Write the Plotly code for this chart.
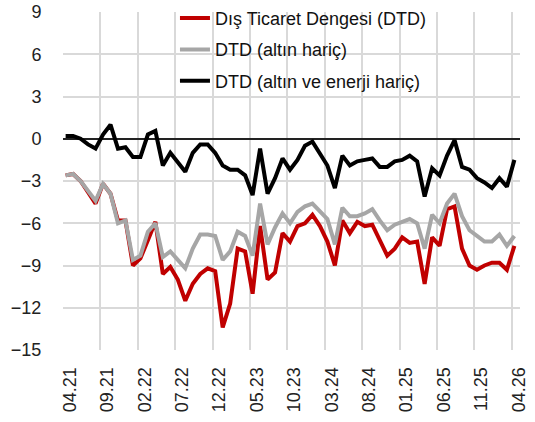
import pandas as pd
import plotly.graph_objects as go

months = [d.strftime("%m.%y") for d in pd.date_range("2021-04-01", "2026-04-01", freq="MS")]
month_idx = list(range(len(months)))
tick_labels = months[::5]

dtd = [-2.6, -2.5, -3.0, -3.8, -4.6, -3.2, -3.9, -5.8, -5.8, -9.0,
       -8.5, -7.2, -5.9, -9.6, -9.1, -10.0, -11.5, -10.3, -9.6, -9.2,
       -9.4, -13.4, -11.7, -7.8, -8.0, -11.0, -6.2, -10.0, -9.5, -6.7,
       -7.3, -6.2, -6.0, -5.4, -6.2, -7.3, -9.0, -5.8, -6.7, -5.9,
       -6.2, -6.1, -7.2, -8.3, -7.8, -7.0, -7.4, -7.3, -10.3, -7.0,
       -7.6, -5.0, -4.8, -7.8, -9.0, -9.3, -9.0, -8.8, -8.8, -9.3,
       -7.6]
dtd_ex_gold = [-2.6, -2.5, -3.0, -3.7, -4.4, -3.2, -3.9, -6.0, -5.8, -8.6,
               -8.3, -6.6, -6.0, -8.4, -8.0, -8.6, -9.2, -7.8, -6.8, -6.8,
               -6.9, -8.6, -8.0, -6.6, -6.9, -8.3, -4.6, -7.5, -6.3, -5.3,
               -6.0, -5.2, -4.8, -4.6, -5.2, -5.7, -7.5, -4.9, -5.5, -5.5,
               -5.3, -5.0, -5.8, -6.5, -6.1, -5.9, -5.7, -6.0, -7.8, -5.4,
               -6.0, -4.6, -3.9, -5.5, -6.5, -6.9, -7.3, -7.3, -6.8, -7.6,
               -6.9]
dtd_ex_gold_energy = [0.2, 0.2, 0.0, -0.4, -0.7, 0.3, 1.0, -0.7, -0.6, -1.3,
                      -1.3, 0.3, 0.55, -1.9, -1.0, -1.7, -2.35, -1.0, -0.4, -0.4,
                      -1.0, -1.9, -2.2, -2.2, -2.6, -4.0, -0.7, -3.9, -2.8, -1.4,
                      -2.2, -1.5, -0.5, -0.2, -1.0, -1.9, -3.5, -1.2, -1.9, -1.6,
                      -1.5, -1.4, -2.0, -2.0, -1.6, -1.5, -1.2, -1.6, -4.1, -2.1,
                      -2.6, -1.2, -0.1, -2.0, -2.2, -2.8, -3.1, -3.5, -2.8, -3.4,
                      -1.5]

series = [
    ("Dış Ticaret Dengesi (DTD)", dtd, "#C00000"),
    ("DTD (altın hariç)", dtd_ex_gold, "#A6A6A6"),
    ("DTD (altın ve enerji hariç)", dtd_ex_gold_energy, "#000000"),
]

FONT = "Liberation Sans"
GRID = "#D9D9D9"
# gridlines sit slightly before each month's point, as in the original axis
TICK_SHIFT = -0.35
XR = [TICK_SHIFT, 60.75]
tick_pos = [i + TICK_SHIFT for i in month_idx[::5]]

fig = go.Figure()
for k, (name, vals, col) in enumerate(series):
    fig.add_trace(go.Scatter(x=month_idx, y=vals, name=name, mode="lines",
                             line=dict(color=col, width=4),
                             customdata=months,
                             hovertemplate="%{customdata}: %{y}<extra></extra>",
                             legendgroup=name, legendrank=k))

fig.update_layout(
    width=535, height=422,
    margin=dict(l=63, r=15, t=12, b=72, autoexpand=False),
    paper_bgcolor="white", plot_bgcolor="white",
    font=dict(family=FONT, size=18, color="#222"),
    showlegend=True,
    legend=dict(x=0.245, y=1.036, xanchor="left", yanchor="top",
                bgcolor="rgba(0,0,0,0)", tracegroupgap=5,
                font=dict(family=FONT, size=18, color="#111")),
    xaxis=dict(range=XR, tickmode="array",
               tickvals=tick_pos, ticktext=tick_labels, tickangle=-90,
               showgrid=True, gridcolor=GRID, gridwidth=2,
               showline=False, zeroline=False, automargin=False,
               ticks="outside", ticklen=9, tickcolor="rgba(0,0,0,0)",
               ticklabelshift=7, ticklabeloverflow="allow",
               tickfont=dict(family=FONT, size=18, color="#222")),
    yaxis=dict(range=[-15, 9], dtick=3, tick0=0, showgrid=True,
               gridcolor=GRID, gridwidth=2, zeroline=True,
               zerolinecolor="#222", zerolinewidth=2,
               showline=False, automargin=False,
               ticks="outside", ticklen=17, tickcolor="rgba(0,0,0,0)",
               ticklabeloverflow="allow",
               tickfont=dict(family=FONT, size=18, color="#222")),
)

fig.write_html("out.html", config={"displayModeBar": False},
               post_script="document.body.style.margin='0';")
